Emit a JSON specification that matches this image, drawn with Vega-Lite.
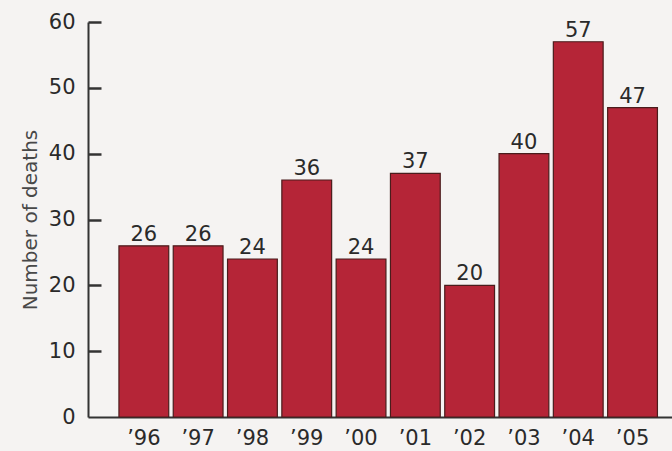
{
  "$schema": "https://vega.github.io/schema/vega-lite/v6.json",
  "width": 584,
  "height": 395,
  "autosize": {"type": "none"},
  "padding": {"left": 88, "top": 22, "right": 0, "bottom": 34},
  "background": "#f5f3f2",
  "config": {"view": {"stroke": null}, "font": "DejaVu Sans"},
  "data": {
    "values": [
      {"year": "’96", "deaths": 26},
      {"year": "’97", "deaths": 26},
      {"year": "’98", "deaths": 24},
      {"year": "’99", "deaths": 36},
      {"year": "’00", "deaths": 24},
      {"year": "’01", "deaths": 37},
      {"year": "’02", "deaths": 20},
      {"year": "’03", "deaths": 40},
      {"year": "’04", "deaths": 57},
      {"year": "’05", "deaths": 47}
    ]
  },
  "encoding": {
    "x": {
      "field": "year",
      "type": "nominal",
      "sort": null,
      "scale": {"paddingInner": 0.083, "paddingOuter": 0.419, "align": 0.68},
      "axis": {
        "title": null,
        "labelAngle": 0,
        "ticks": false,
        "domainColor": "#333333",
        "domainWidth": 2,
        "labelFontSize": 21,
        "labelColor": "#2a2a2a",
        "labelPadding": 10
      }
    }
  },
  "layer": [
    {
      "mark": {"type": "bar", "fill": "#b52537", "stroke": "#4a1c1c", "strokeWidth": 1.2},
      "encoding": {
        "y": {
          "field": "deaths",
          "type": "quantitative",
          "scale": {"domain": [0, 60]},
          "axis": {
            "title": "Number of deaths",
            "values": [0, 10, 20, 30, 40, 50, 60],
            "grid": false,
            "ticks": false,
            "domainColor": "#333333",
            "domainWidth": 2,
            "labelFontSize": 21,
            "labelColor": "#2a2a2a",
            "labelPadding": 13,
            "titleFontSize": 20,
            "titleFontWeight": "normal",
            "titleColor": "#484848",
            "titlePadding": 8
          }
        }
      }
    },
    {
      "mark": {"type": "text", "baseline": "bottom", "dy": -1, "fontSize": 21, "color": "#2a2a2a"},
      "encoding": {
        "y": {
          "field": "deaths",
          "type": "quantitative",
          "scale": {"domain": [0, 60]},
          "axis": {
            "orient": "right",
            "offset": -584,
            "title": null,
            "values": [10, 20, 30, 40, 50, 60],
            "grid": false,
            "domain": false,
            "labels": false,
            "ticks": true,
            "tickSize": 13,
            "tickWidth": 2.5,
            "tickColor": "#333333"
          }
        },
        "text": {"field": "deaths", "type": "quantitative"}
      }
    }
  ],
  "resolve": {"scale": {"y": "independent"}}
}
